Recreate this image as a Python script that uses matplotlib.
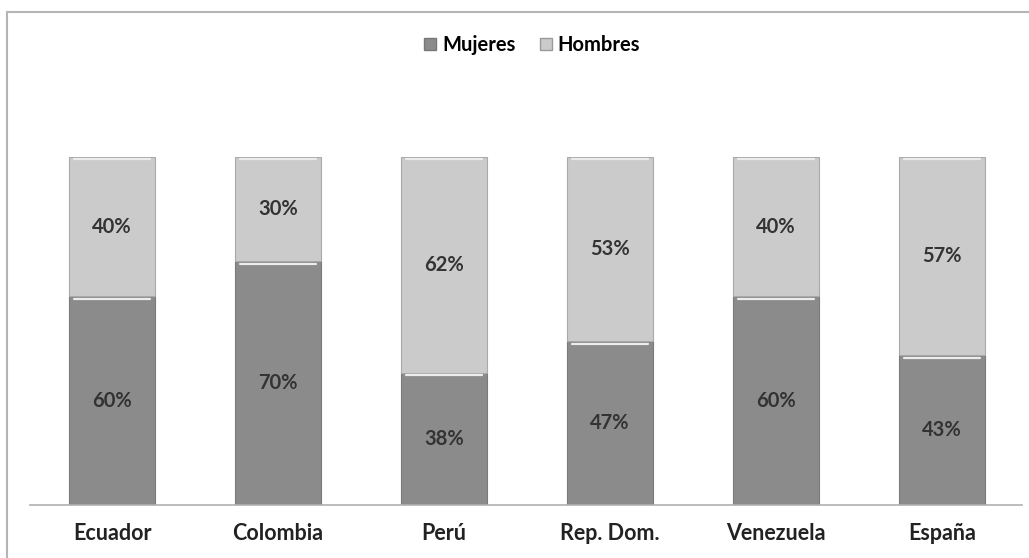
import matplotlib
matplotlib.use("Agg")
import matplotlib.pyplot as plt
from matplotlib.patches import Rectangle, Patch

plt.rcParams["font.family"] = ["Lato", "DejaVu Sans"]

paises = ["Ecuador", "Colombia", "Perú", "Rep. Dom.", "Venezuela", "España"]
mujeres = [60, 70, 38, 47, 60, 43]
hombres = [40, 30, 62, 53, 40, 57]

c_muj = "#8b8b8b"
c_hom = "#cbcbcb"

fig = plt.figure(figsize=(10.29, 5.58), dpi=100)
W, H = 1029, 558
ax = fig.add_axes([30 / W, 53 / H, 992 / W, 348 / H])

x = list(range(len(paises)))
width = 0.518
ax.bar(x, mujeres, width, color=c_muj, edgecolor="#7a7a7a", linewidth=0.8)
ax.bar(x, hombres, width, bottom=mujeres, color=c_hom, edgecolor="#a9a9a9", linewidth=0.8)

# bevel highlight on top of each segment
for xi, m, h in zip(x, mujeres, hombres):
    for top in (m, m + h):
        ax.plot([xi - width / 2 + 0.03, xi + width / 2 - 0.03], [top - 0.7, top - 0.7],
                color="#ececec", lw=1.6, solid_capstyle="round")

for xi, m, h in zip(x, mujeres, hombres):
    ax.text(xi, m / 2, f"{m}%", ha="center", va="center", fontsize=14.5,
            fontweight="bold", color="#333333")
    ax.text(xi, m + h / 2, f"{h}%", ha="center", va="center", fontsize=14.5,
            fontweight="bold", color="#333333")

ax.set_xlim(-0.494, 5.48)
ax.set_ylim(0, 100)
ax.set_yticks([])
ax.set_xticks(x)
ax.set_xticklabels(paises, fontsize=15.5, fontweight="bold", color="#222222")
ax.tick_params(axis="x", length=0, pad=13)
for s in ("top", "right", "left"):
    ax.spines[s].set_visible(False)
ax.spines["bottom"].set_color("#b0b0b0")
ax.spines["bottom"].set_linewidth(1.2)

handles = [Patch(facecolor=c_muj, edgecolor="#777777"),
           Patch(facecolor=c_hom, edgecolor="#999999")]
fig.legend(handles, ["Mujeres", "Hombres"], loc="center", bbox_to_anchor=(532 / W, 1 - 45 / H),
           ncol=2, frameon=False, prop={"weight": "bold", "size": 14.5},
           handlelength=0.6, handleheight=0.6, handletextpad=0.3, columnspacing=1.2)

# outer frame of the chart area
fig.patches.append(Rectangle((7 / W, -0.05), 1.1, 1 - 12 / H + 0.05,
                             transform=fig.transFigure, fill=False,
                             edgecolor="#b5b5b5", linewidth=1.5))

fig.savefig("out.png", dpi=100)
